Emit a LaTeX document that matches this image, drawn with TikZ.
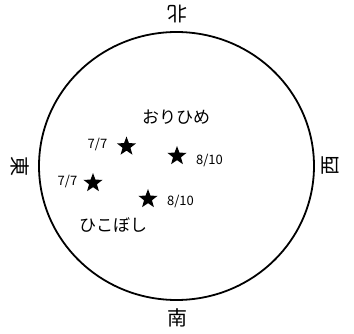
\documentclass[tikz,border=0pt]{standalone}
\usepackage{fontspec}
\newfontfamily\jpfont{Noto Sans CJK JP}
\usetikzlibrary{shapes.geometric}
\tikzset{
  dirlabel/.style={font=\jpfont\fontsize{20}{20}\selectfont, inner sep=0pt},
  starmark/.style={star, star points=5, star point ratio=2.4, fill=black, draw=none, minimum size=20pt, inner sep=0pt},
  numlabel/.style={font=\jpfont\fontsize{13}{13}\selectfont, inner sep=0pt},
  starname/.style={font=\jpfont\fontsize{17}{17}\selectfont, inner sep=0pt}
}
\begin{document}
\begin{tikzpicture}[x=1pt,y=-1pt]
\useasboundingbox (0,0) rectangle (354,334);
\node[draw, ellipse, line width=1.8pt, minimum width=275pt, minimum height=268pt, inner sep=0pt] (sky) at (176.5,166) {};
\node[dirlabel, rotate=180] (n) at (177,14) {北};
\node[dirlabel] (s) at (177,318) {南};
\node[dirlabel, rotate=-90] (e) at (20,167) {東};
\node[dirlabel, rotate=90] (w) at (331,166) {西};
\node[starmark] (v1) at (126.5,146.5) {};
\node[numlabel] (v1l) at (97.5,145) {7/7};
\node[starmark] (v2) at (177,156) {};
\node[numlabel] (v2l) at (209.5,161) {8/10};
\node[starmark] (a1) at (93,183) {};
\node[numlabel] (a1l) at (67.5,182) {7/7};
\node[starmark] (a2) at (148,199) {};
\node[numlabel] (a2l) at (180.5,202) {8/10};
\node[starname] (orihime) at (176,117) {おりひめ};
\node[starname] (hikoboshi) at (113,225) {ひこぼし};
\end{tikzpicture}
\end{document}
